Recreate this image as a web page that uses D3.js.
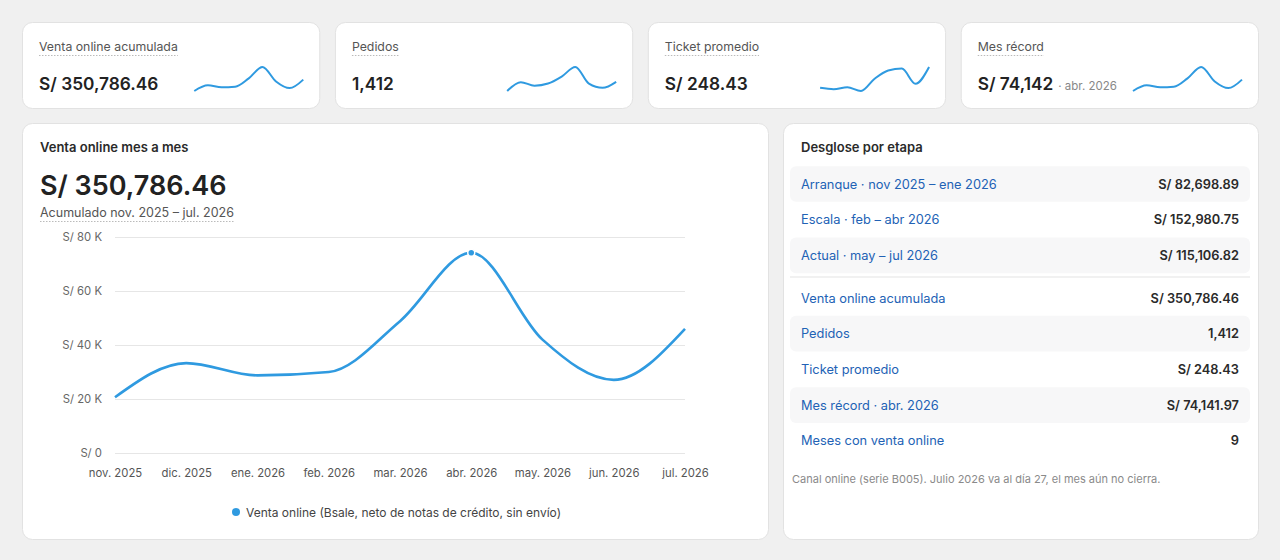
<!DOCTYPE html>
<html lang="es">
<head>
<meta charset="UTF-8">
<script src="https://d3js.org/d3.v7.min.js"></script>
<title>Venta online mes a mes</title>
<style>
  html, body { margin: 0; padding: 0; background: #f0f0f0; }
  svg { font-family: Inter, "Noto Sans", Arial, sans-serif; display: block; }
</style>
</head>
<body>
<div id="chart"></div>
<script>
// months and monthly online sales (S/)
const months = ["nov. 2025", "dic. 2025", "ene. 2026", "feb. 2026", "mar. 2026",
                "abr. 2026", "may. 2026", "jun. 2026", "jul. 2026"];
const sales = [20650, 33300, 28749, 30000, 48839, 74141.97, 42000, 27100, 46007];
const orders = [95, 157, 132, 147, 196, 263, 146, 117, 159];
const ticket = [217, 212, 219, 205, 251, 282, 289, 232, 295];
const yTicks = [0, 20000, 40000, 60000, 80000];

// KPI cards
const kpiLabels = ["Venta online acumulada", "Pedidos", "Ticket promedio", "Mes récord"];
const kpiValues = ["S/ 350,786.46", "1,412", "S/ 248.43", "S/ 74,142"];
const kpiNotes = ["", "", "", "· abr. 2026"];
const kpiSeries = [sales, orders, ticket, sales];

// breakdown table
const stageLabels = ["Arranque · nov 2025 – ene 2026", "Escala · feb – abr 2026", "Actual · may – jul 2026"];
const stageValues = ["S/ 82,698.89", "S/ 152,980.75", "S/ 115,106.82"];
const summaryLabels = ["Venta online acumulada", "Pedidos", "Ticket promedio", "Mes récord · abr. 2026", "Meses con venta online"];
const summaryValues = ["S/ 350,786.46", "1,412", "S/ 248.43", "S/ 74,141.97", "9"];

const blue = "#2f9ae0";
const W = 1280, H = 560;

const svg = d3.select("#chart").append("svg")
    .attr("width", W).attr("height", H);

function card(x, y, w, h) {
    svg.append("rect")
        .attr("x", x + 0.5).attr("y", y + 0.5)
        .attr("width", w).attr("height", h)
        .attr("rx", 10)
        .attr("fill", "#fff")
        .attr("stroke", "#e2e2e2");
}

// dotted underline under a text node
function underline(t) {
    const bb = t.node().getBBox();
    svg.append("line")
        .attr("x1", bb.x).attr("x2", bb.x + bb.width)
        .attr("y1", bb.y + bb.height + 1.5).attr("y2", bb.y + bb.height + 1.5)
        .attr("stroke", "#bbb")
        .attr("stroke-dasharray", "1.5,1.5");
}

// ---- KPI cards ----
const kpiX = d3.scaleBand().domain(d3.range(4)).range([22, 1258]).paddingInner(0.05);

kpiLabels.forEach((lab, i) => {
    const x0 = kpiX(i), w = kpiX.bandwidth();
    card(x0, 22, w, 86);

    const t = svg.append("text")
        .attr("x", x0 + 17).attr("y", 51)
        .attr("font-size", 12.3).attr("fill", "#555")
        .text(lab);
    underline(t);

    const v = svg.append("text")
        .attr("x", x0 + 17).attr("y", 90)
        .attr("font-size", 17.3).attr("font-weight", 600).attr("fill", "#222")
        .text(kpiValues[i]);

    if (kpiNotes[i]) {
        svg.append("text")
            .attr("x", x0 + 17 + v.node().getComputedTextLength() + 5).attr("y", 90)
            .attr("font-size", 11.5).attr("fill", "#888")
            .text(kpiNotes[i]);
    }

    const sx = d3.scalePoint().domain(d3.range(9)).range([x0 + w - 125, x0 + w - 16]);
    const sy = d3.scaleLinear().domain(d3.extent(kpiSeries[i])).range([91, 67]);
    svg.append("path")
        .datum(kpiSeries[i])
        .attr("fill", "none").attr("stroke", blue).attr("stroke-width", 2)
        .attr("d", d3.line().x((d, j) => sx(j)).y(d => sy(d)).curve(d3.curveMonotoneX));
});

// ---- main chart card ----
card(22, 123, 746, 416);
svg.append("text").attr("x", 40).attr("y", 152)
    .attr("font-size", 13).attr("font-weight", 600).attr("fill", "#2a2a2a")
    .text("Venta online mes a mes");
svg.append("text").attr("x", 40).attr("y", 195)
    .attr("font-size", 27).attr("font-weight", 600).attr("fill", "#222")
    .text("S/ 350,786.46");
const sub = svg.append("text").attr("x", 40).attr("y", 217)
    .attr("font-size", 12.5).attr("fill", "#555")
    .text("Acumulado nov. 2025 – jul. 2026");
underline(sub);

const x = d3.scalePoint().domain(months).range([115, 685]);
const y = d3.scaleLinear().domain([0, 80000]).range([453, 237]);

const yAxis = svg.append("g")
    .attr("transform", "translate(115,0)")
    .call(d3.axisLeft(y).tickValues(yTicks).tickSize(-570).tickPadding(13)
        .tickFormat(d => d === 0 ? "S/ 0" : `S/ ${d / 1000} K`));
yAxis.select(".domain").remove();
yAxis.selectAll(".tick line").attr("stroke", "#e6e6e6");
yAxis.selectAll(".tick text").attr("fill", "#666").attr("font-size", 11.3)
    .attr("font-family", "Inter, sans-serif");

const xAxis = svg.append("g")
    .attr("transform", "translate(0,453)")
    .call(d3.axisBottom(x).tickSize(0).tickPadding(16));
xAxis.select(".domain").remove();
xAxis.selectAll(".tick text").attr("fill", "#555").attr("font-size", 11.3)
    .attr("font-family", "Inter, sans-serif");

svg.append("path")
    .datum(sales)
    .attr("fill", "none").attr("stroke", blue).attr("stroke-width", 2.6)
    .attr("d", d3.line().x((d, i) => x(months[i])).y(d => y(d)).curve(d3.curveMonotoneX));

const iMax = d3.maxIndex(sales);
svg.append("circle")
    .attr("cx", x(months[iMax])).attr("cy", y(sales[iMax]))
    .attr("r", 3.5)
    .attr("fill", blue).attr("stroke", "#fff").attr("stroke-width", 1.5);

// legend
svg.append("circle").attr("cx", 236).attr("cy", 512).attr("r", 4).attr("fill", blue);
svg.append("text").attr("x", 246).attr("y", 516.5)
    .attr("font-size", 12).attr("fill", "#444")
    .text("Venta online (Bsale, neto de notas de crédito, sin envío)");

// ---- breakdown card ----
card(783, 123, 475, 416);
svg.append("text").attr("x", 801).attr("y", 152)
    .attr("font-size", 13).attr("font-weight", 600).attr("fill", "#2a2a2a")
    .text("Desglose por etapa");

const rowH = 35.7;
function rows(labels, values, top, shadeOdd) {
    labels.forEach((lab, i) => {
        const cy = top + i * rowH;
        if ((i % 2 === 0) === shadeOdd) {
            svg.append("rect")
                .attr("x", 790).attr("y", cy - rowH / 2)
                .attr("width", 460).attr("height", rowH)
                .attr("rx", 6).attr("fill", "#f7f7f8");
        }
        svg.append("text").attr("x", 801).attr("y", cy + 4.5)
            .attr("font-size", 12.8).attr("fill", "#2262b5")
            .text(lab);
        svg.append("text").attr("x", 1239).attr("y", cy + 4.5)
            .attr("text-anchor", "end")
            .attr("font-size", 12.8).attr("font-weight", 600).attr("fill", "#2a2a2a")
            .text(values[i]);
    });
}
rows(stageLabels, stageValues, 184, true);
svg.append("line").attr("x1", 790).attr("x2", 1250).attr("y1", 277).attr("y2", 277)
    .attr("stroke", "#ececec").attr("stroke-width", 1.5);
rows(summaryLabels, summaryValues, 298, false);

svg.append("text").attr("x", 792).attr("y", 483)
    .attr("font-size", 11).attr("fill", "#8a8a8a")
    .text("Canal online (serie B005). Julio 2026 va al día 27, el mes aún no cierra.");
</script>
</body>
</html>
